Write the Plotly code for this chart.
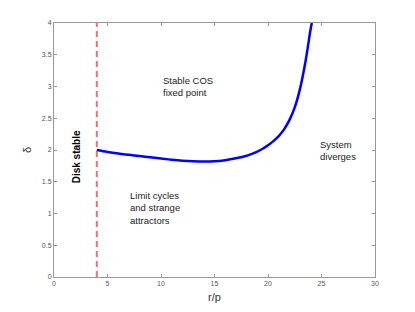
import plotly.graph_objects as go

# Data
r_p = [4, 5, 6, 7, 8, 9, 10, 11, 12, 13, 14, 15, 16, 17, 18, 18.5, 19, 19.5, 20, 20.5, 21, 21.5, 22, 22.5, 23, 23.5, 24, 24.1]
delta = [2.00, 1.97, 1.945, 1.925, 1.905, 1.885, 1.865, 1.847, 1.832, 1.822, 1.817, 1.822, 1.84, 1.87, 1.91, 1.94, 1.975, 2.02, 2.075, 2.14, 2.22, 2.325, 2.47, 2.67, 2.97, 3.39, 3.92, 4.0]
disk_x = [4, 4]
disk_y = [0, 4]
x_ticks = [0, 5, 10, 15, 20, 25, 30]
y_ticks = [0, 0.5, 1, 1.5, 2, 2.5, 3, 3.5, 4]
y_tick_labels = ["0", "0.5", "1", "1.5", "2", "2.5", "3", "3.5", "4"]

fig = go.Figure()
fig.add_trace(go.Scatter(x=disk_x, y=disk_y, mode="lines",
                         line=dict(color="#f07070", width=2, dash="6px,4px"),
                         hoverinfo="skip"))
fig.add_trace(go.Scatter(x=r_p, y=delta, mode="lines",
                         line=dict(color="#0000ff", width=2.5, shape="spline", smoothing=1.0),
                         hoverinfo="skip"))

font = "Liberation Sans, Arial, Helvetica, sans-serif"
ann = [
    dict(x=10, y=3.0, text="Stable COS<br>fixed point", xanchor="left", yanchor="middle", align="left",
         font=dict(size=9.5, color="#222")),
    dict(x=6.9, y=1.09, text="Limit cycles<br>and strange<br>attractors", xanchor="left", yanchor="middle", align="left",
         font=dict(size=9.5, color="#222")),
    dict(x=24.7, y=2.0, text="System<br>diverges", xanchor="left", yanchor="middle", align="left",
         font=dict(size=9.5, color="#222")),
    dict(x=2.05, y=1.9, text="<b>Disk stable</b>", textangle=-90, xanchor="center", yanchor="middle",
         font=dict(size=10, color="#000")),
]
for a in ann:
    a.update(xref="x", yref="y", showarrow=False)
fig.update_layout(annotations=ann)

axis_common = dict(showgrid=False, zeroline=False, showline=True, linecolor="#999", linewidth=1,
                   mirror="ticks", ticks="inside", ticklen=3, tickcolor="#999",
                   tickfont=dict(size=7, color="#555", family=font))
fig.update_xaxes(range=[0, 30], tickvals=x_ticks,
                 title=dict(text="r/p", font=dict(size=11, color="#333", family=font), standoff=6),
                 **axis_common)
fig.update_yaxes(range=[0, 4], tickvals=y_ticks, ticktext=y_tick_labels,
                 title=dict(text="δ", font=dict(size=11, color="#333", family=font), standoff=8),
                 **axis_common)

# page body adds an 8px offset; margins compensate so the plot area lands at x 54-375, y 23-277
fig.update_layout(width=415, height=312, margin=dict(l=46, r=48, t=15, b=43),
                  plot_bgcolor="white", paper_bgcolor="white", showlegend=False,
                  font=dict(family=font))
fig.write_html("out.html")
